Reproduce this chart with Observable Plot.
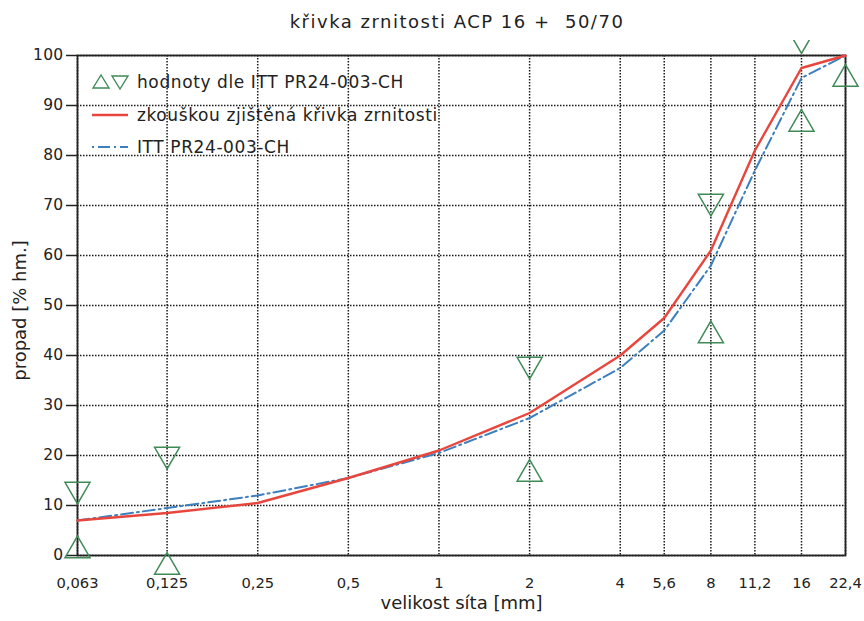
<!DOCTYPE html>
<html>
<head>
<meta charset="utf-8">
<script src="https://cdn.jsdelivr.net/npm/d3@7"></script>
<script src="https://cdn.jsdelivr.net/npm/@observablehq/plot@0.6"></script>
<style>
  body { margin: 0; background: #fff; font-family: "DejaVu Sans", sans-serif; }
  #wrap { position: relative; width: 864px; height: 621px; }
  #title { height: 40px; line-height: 44px; text-align: center; font-size: 18px; letter-spacing: 1.5px; color: #222; padding-left: 50px; box-sizing: border-box; }
  #legend { position: absolute; left: 90px; top: 66px; font-size: 17px; letter-spacing: 0.6px; color: #222; }
  #legend .row { display: flex; align-items: center; height: 32.5px; }
  #legend svg { width: 40px; height: 20px; margin-right: 7px; }
  #chart g[aria-label="y-axis tick label"] text { letter-spacing: 0.3px; }
  #chart g[aria-label="x tick labels"] text { letter-spacing: 0.2px; }
  #chart g[aria-label="x title"] text { letter-spacing: 1.6px; }
  #chart g[aria-label="y title"] text { letter-spacing: 2px; }
</style>
</head>
<body>
<div id="wrap">
  <div id="title">křivka zrnitosti ACP 16 +&nbsp; 50/70</div>
  <div id="chart"></div>
  <div id="legend"></div>
</div>
<script>
const sieves = [0.063, 0.125, 0.25, 0.5, 1, 2, 4, 5.6, 8, 11.2, 16, 22.4];
const tested = [7.0, 8.5, 10.5, 15.5, 21.0, 28.5, 40.0, 47.5, 61.0, 81.0, 97.5, 100];
const ittCurve = [7.0, 9.5, 12.0, 15.5, 20.5, 27.5, 37.5, 45.0, 58.0, 77.0, 95.5, 100];
const lowerSieves = [0.063, 0.125, 2, 8, 16, 22.4];
const lowerLimits = [1, -2.3, 16.3, 44, 86.3, 95.3];
const upperSieves = [0.063, 0.125, 2, 8, 16];
const upperLimits = [13.2, 20.2, 38.2, 70.8, 103.3];
const yTicks = [0, 10, 20, 30, 40, 50, 60, 70, 80, 90, 100];

const red = "#e8463c", blue = "#3c7fbf", green = "#3f8a56";
const lineRows = sieves.map((s, i) => ({s, tested: tested[i], itt: ittCurve[i]}));
const lowRows = lowerSieves.map((s, i) => ({s, v: lowerLimits[i]}));
const upRows = upperSieves.map((s, i) => ({s, v: upperLimits[i]}));
const fmt = d => String(d).replace(".", ",");

const chart = Plot.plot({
  width: 864,
  height: 581,
  marginTop: 15,
  marginBottom: 66,
  marginLeft: 77,
  marginRight: 19,
  style: {fontFamily: "DejaVu Sans, sans-serif", fontSize: "15px", color: "#222"},
  x: {type: "log", domain: [0.063, 22.4], axis: null, label: null},
  y: {domain: [0, 100], ticks: yTicks, label: null},
  marks: [
    Plot.gridX(sieves, {stroke: "#000", strokeOpacity: 0.9, strokeWidth: 1.5, strokeDasharray: "1.5,1.5"}),
    Plot.gridY(yTicks, {stroke: "#000", strokeOpacity: 0.9, strokeWidth: 1.5, strokeDasharray: "1.5,1.5"}),
    Plot.text(sieves, {x: d => d, frameAnchor: "bottom", dy: 32, text: fmt, fontSize: 14.7, fill: "#222", ariaLabel: "x tick labels"}),
    Plot.axisY(yTicks, {tickSize: 11, tickPadding: 3, fontSize: 15.5, strokeWidth: 1.5, label: null}),
    Plot.frame({stroke: "#222", strokeWidth: 1.8}),
    Plot.line(lineRows, {x: "s", y: "itt", stroke: blue, strokeWidth: 2, strokeDasharray: "12,4,2,4"}),
    Plot.line(lineRows, {x: "s", y: "tested", stroke: red, strokeWidth: 2.4}),
    Plot.dot(lowRows, {x: "s", y: "v", symbol: "triangle", r: 9.3, stroke: green, strokeWidth: 1.5, fill: "none"}),
    Plot.dot(upRows, {x: "s", y: "v", symbol: "triangle", r: 9.3, rotate: 180, stroke: green, strokeWidth: 1.5, fill: "none"}),
    Plot.text(["velikost síta [mm]"], {frameAnchor: "bottom", dy: 53, fontSize: 18, fill: "#222", ariaLabel: "x title"}),
    Plot.text(["propad [% hm.]"], {frameAnchor: "left", textAnchor: "middle", dx: -57, dy: 5, rotate: -90, fontSize: 18, fill: "#222", ariaLabel: "y title"})
  ]
});
document.getElementById("chart").appendChild(chart);

const legendItems = [
  {label: "hodnoty dle ITT PR24-003-CH", kind: "tri"},
  {label: "zkouškou zjištěná křivka zrnitosti", kind: "red"},
  {label: "ITT PR24-003-CH", kind: "blue"}
];
const leg = document.getElementById("legend");
for (const it of legendItems) {
  const row = document.createElement("div");
  row.className = "row";
  let sym;
  if (it.kind === "tri") {
    sym = `<svg viewBox="0 0 40 20"><path d="M3,16 L11,3 L19,16 Z" fill="none" stroke="${green}" stroke-width="1.4"/><path d="M22,4 L38,4 L30,17 Z" fill="none" stroke="${green}" stroke-width="1.4"/></svg>`;
  } else if (it.kind === "red") {
    sym = `<svg viewBox="0 0 40 20"><line x1="2" y1="10" x2="38" y2="10" stroke="${red}" stroke-width="2.4"/></svg>`;
  } else {
    sym = `<svg viewBox="0 0 40 20"><line x1="2" y1="10" x2="38" y2="10" stroke="${blue}" stroke-width="2" stroke-dasharray="2,4,12,4"/></svg>`;
  }
  row.innerHTML = sym + `<span>${it.label}</span>`;
  leg.appendChild(row);
}
</script>
</body>
</html>
